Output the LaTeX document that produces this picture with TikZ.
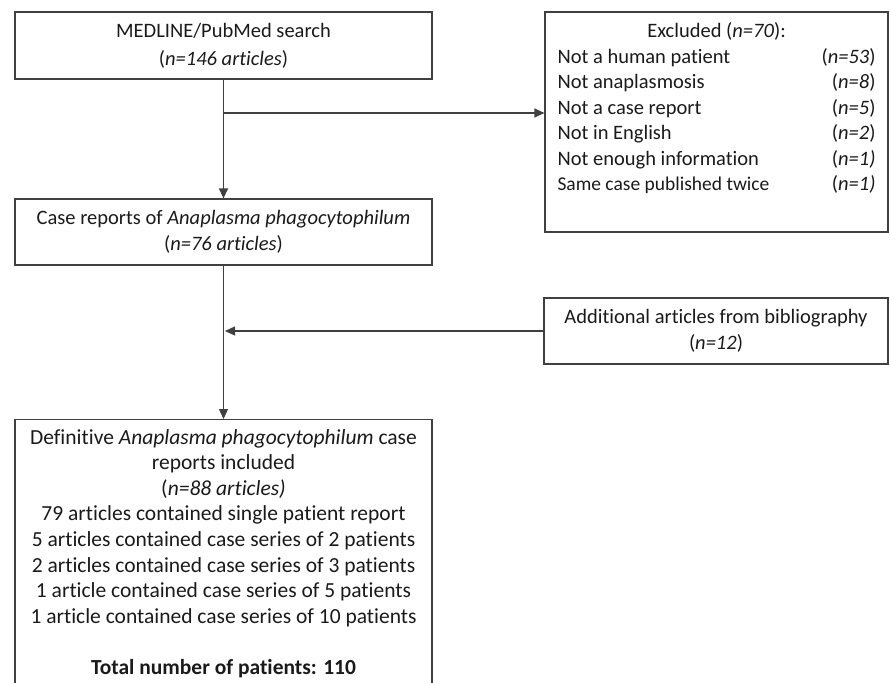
\documentclass[tikz,border=0pt]{standalone}
\usepackage{fontspec}
\setmainfont{Carlito}[Ligatures=NoCommon]
\usetikzlibrary{arrows.meta}
\definecolor{linegray}{HTML}{404040}
\definecolor{textgray}{HTML}{1A1A1A}

\begin{document}
\begin{tikzpicture}[
    x=1pt, y=-1pt,
    box/.style={rectangle, draw=linegray, line width=1.2pt, align=center, text=textgray, inner sep=0pt, font=\fontsize{20.5}{25.5}\selectfont},
    arrow/.style={-{Triangle[length=10pt,width=9pt]}, line width=1.2pt, draw=linegray}
]
\useasboundingbox (0,0) rectangle (890,682);

% Main column
\node[box, minimum width=417pt, minimum height=67pt, font=\fontsize{20.5}{28}\selectfont] (search) at (223.5,45.5) {MEDLINE/PubMed search\\(\textit{n=146 articles})};
\node[box, minimum width=417pt, minimum height=66pt] (cases) at (223.5,232) {Case reports of \textit{Anaplasma phagocytophilum}\\(\textit{n=76 articles})};
\node[box, anchor=north, minimum width=417pt, minimum height=268pt, font=\fontsize{21.5}{25.6}\selectfont] (final) at (223.5,419) {Definitive \textit{Anaplasma phagocytophilum} case\\reports included\\(\textit{n=88 articles)}\\79 articles contained single patient report\\5 articles contained case series of 2 patients\\2 articles contained case series of 3 patients\\1 article contained case series of 5 patients\\1 article contained case series of 10 patients\\[25.6pt]\textbf{Total number of patients: 110}};

% Side boxes
\node[box, minimum width=343pt, minimum height=220pt] (excluded) at (716.5,122) {%
\begin{tabular*}{318pt}{@{}l@{\extracolsep{\fill}}r@{}}
\multicolumn{2}{c}{Excluded (\textit{n=70}):}\\
Not a human patient & (\textit{n=53})\\
Not anaplasmosis & (\textit{n=8})\\
Not a case report & (\textit{n=5})\\
Not in English & (\textit{n=2})\\
Not enough information & (\textit{n=1)}\\
{\fontsize{19.5}{25.5}\selectfont Same case published twice} & (\textit{n=1)}\\
& \\
\end{tabular*}};
\node[box, minimum width=344pt, minimum height=66pt] (additional) at (716,331) {Additional articles from bibliography\\(\textit{n=12})};

% Connectors
\coordinate (split) at (search.south |- 0,113);
\coordinate (merge) at (cases.south |- additional.west);
\draw[arrow] (search) -- (cases);
\draw[arrow] (split) -- (split -| excluded.west);
\draw[arrow, shorten >=1.5pt] (additional.west) -- (merge);
\draw[arrow] (cases) -- (final);

\end{tikzpicture}
\end{document}
